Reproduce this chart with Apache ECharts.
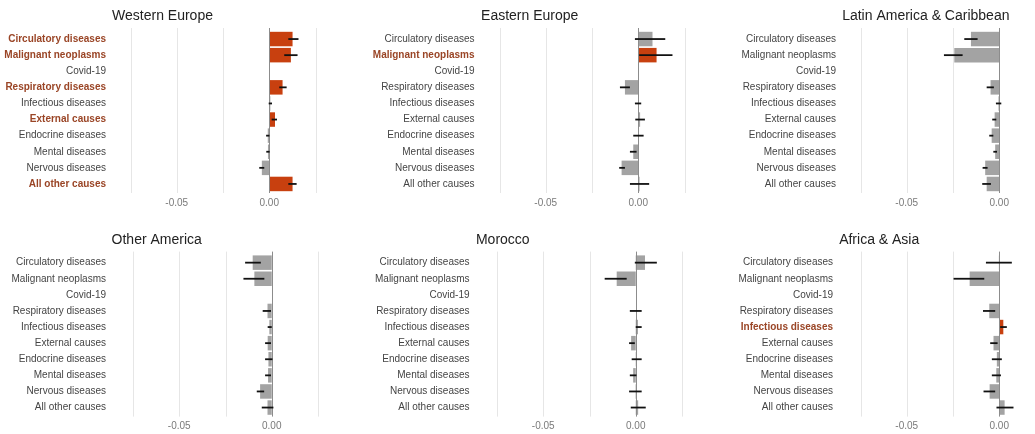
<!DOCTYPE html>
<html>
<head>
<meta charset="utf-8">
<script src="https://cdn.jsdelivr.net/npm/echarts@6/dist/echarts.min.js"></script>
<style>
  html, body { margin: 0; padding: 0; background: #fff; }
  #chart { width: 1035px; height: 434px; }
</style>
</head>
<body>
<div id="chart"></div>
<script>
// Causes of death, top to bottom in every panel
const causes = ['Circulatory diseases', 'Malignant neoplasms', 'Covid-19', 'Respiratory diseases',
  'Infectious diseases', 'External causes', 'Endocrine diseases', 'Mental diseases',
  'Nervous diseases', 'All other causes'];

// Tick labels shown on the x axis and the reference grid lines
const tickValues = [-0.05, 0];
const gridValues = [-0.075, -0.05, -0.025, 0.025];
const zeroValue = [0];

// Western Europe: estimate, lower and upper bounds
const westernEuropeEst = [0.0126, 0.0117, null, 0.0072, 0.0006, 0.0031, -0.0008, -0.0007, -0.0040, 0.0126];
const westernEuropeLo  = [0.0103, 0.0081, null, 0.0054, -0.0003, 0.0013, -0.0017, -0.0016, -0.0054, 0.0103];
const westernEuropeHi  = [0.0158, 0.0153, null, 0.0094, 0.0015, 0.0042, 0.0001, 0.0002, -0.0027, 0.0148];
const westernEuropeSig = ['Circulatory diseases', 'Malignant neoplasms', 'Respiratory diseases', 'External causes', 'All other causes'];

// Eastern Europe
const easternEuropeEst = [0.0077, 0.0099, null, -0.0072, 0.0000, 0.0010, 0.0001, -0.0027, -0.0090, 0.0007];
const easternEuropeLo  = [-0.0018, 0.0005, null, -0.0099, -0.0018, -0.0016, -0.0027, -0.0045, -0.0103, -0.0045];
const easternEuropeHi  = [0.0146, 0.0185, null, -0.0045, 0.0016, 0.0036, 0.0029, -0.0009, -0.0072, 0.0059];
const easternEuropeSig = ['Malignant neoplasms'];

// Latin America & Caribbean
const latinAmericaEst = [-0.0153, -0.0243, null, -0.0047, -0.0004, -0.0025, -0.0041, -0.0022, -0.0076, -0.0068];
const latinAmericaLo  = [-0.0189, -0.0299, null, -0.0068, -0.0018, -0.0038, -0.0054, -0.0032, -0.0090, -0.0092];
const latinAmericaHi  = [-0.0117, -0.0198, null, -0.0029, 0.0011, -0.0016, -0.0032, -0.0012, -0.0063, -0.0045];
const latinAmericaSig = [];

// Other America
const otherAmericaEst = [-0.0103, -0.0094, null, -0.0023, -0.0013, -0.0022, -0.0018, -0.0020, -0.0063, -0.0023];
const otherAmericaLo  = [-0.0144, -0.0153, null, -0.0049, -0.0022, -0.0036, -0.0036, -0.0036, -0.0081, -0.0054];
const otherAmericaHi  = [-0.0059, -0.0040, null, -0.0004, 0.0000, -0.0004, 0.0004, -0.0004, -0.0041, 0.0009];
const otherAmericaSig = [];

// Morocco
const moroccoEst = [0.0050, -0.0103, null, 0.0000, 0.0012, -0.0025, 0.0004, -0.0014, -0.0002, 0.0013];
const moroccoLo  = [-0.0005, -0.0168, null, -0.0032, 0.0000, -0.0036, -0.0022, -0.0032, -0.0036, -0.0027];
const moroccoHi  = [0.0114, -0.0049, null, 0.0032, 0.0032, -0.0005, 0.0032, 0.0004, 0.0032, 0.0054];
const moroccoSig = [];

// Africa & Asia
const africaAsiaEst = [-0.0002, -0.0160, null, -0.0054, 0.0022, -0.0031, -0.0013, -0.0016, -0.0052, 0.0029];
const africaAsiaLo  = [-0.0072, -0.0247, null, -0.0088, 0.0005, -0.0049, -0.0040, -0.0040, -0.0085, -0.0015];
const africaAsiaHi  = [0.0068, -0.0081, null, -0.0022, 0.0041, -0.0009, 0.0014, 0.0009, -0.0022, 0.0077];
const africaAsiaSig = ['Infectious diseases'];

const regionNames = ['Western Europe', 'Eastern Europe', 'Latin America & Caribbean',
  'Other America', 'Morocco', 'Africa & Asia'];
const regionEst = [westernEuropeEst, easternEuropeEst, latinAmericaEst, otherAmericaEst, moroccoEst, africaAsiaEst];
const regionLo  = [westernEuropeLo, easternEuropeLo, latinAmericaLo, otherAmericaLo, moroccoLo, africaAsiaLo];
const regionHi  = [westernEuropeHi, easternEuropeHi, latinAmericaHi, otherAmericaHi, moroccoHi, africaAsiaHi];
const regionSig = [westernEuropeSig, easternEuropeSig, latinAmericaSig, otherAmericaSig, moroccoSig, africaAsiaSig];

// Panel placement (pixels); the right-hand column runs into the page edge
const layout = [
  { left: 112,   top: 31,    xMax: 0.03,  title: [162.5, 15.7], labelMargin: 6 },
  { left: 481,   top: 31,    xMax: 0.03,  title: [529.7, 15.7], labelMargin: 6.5 },
  { left: 842,   top: 31,    xMax: 0.019, title: [925.8, 15.7], labelMargin: 6 },
  { left: 114.5, top: 254.6, xMax: 0.03,  title: [156.7, 240.3], labelMargin: 8.5 },
  { left: 478.5, top: 254.6, xMax: 0.03,  title: [502.8, 240.3], labelMargin: 9 },
  { left: 842,   top: 254.6, xMax: 0.019, title: [879.2, 240.3], labelMargin: 9 }
];
const X_MIN = -0.085;
const PX_PER_UNIT = 1850;
const PANEL_H = 161;

const FONT = '"Liberation Sans", Arial, Helvetica, sans-serif';
const ORANGE = '#C8400F';
const GREY = '#A3A3A3';
const LABEL_RED = '#9A4526';

// vertical rule spanning the panel height, used for the grid and zero lines
function verticalRule(color) {
  return (params, api) => {
    const cs = params.coordSys;
    const x = Math.round(api.coord([api.value(0), 0])[0]) + 0.5;
    return {
      type: 'line',
      shape: { x1: x, y1: cs.y - 3, x2: x, y2: cs.y + cs.height + 1 },
      style: { stroke: color, lineWidth: 1 }
    };
  };
}

const grids = [], xAxes = [], yAxes = [], series = [], graphics = [];

regionNames.forEach((name, i) => {
  const L = layout[i];
  const width = (L.xMax - X_MIN) * PX_PER_UNIT;
  grids.push({ left: L.left, top: L.top, width: width, height: PANEL_H, containLabel: false });

  xAxes.push({
    type: 'value', gridIndex: i, min: X_MIN, max: L.xMax,
    axisLine: { show: false }, axisTick: { show: false }, splitLine: { show: false },
    axisLabel: {
      customValues: tickValues, margin: 6, color: '#7a7a7a', fontSize: 10, fontFamily: FONT,
      formatter: v => v.toFixed(2)
    }
  });

  const sig = regionSig[i];
  yAxes.push({
    type: 'category', gridIndex: i, data: causes, inverse: true,
    axisLine: { show: false }, axisTick: { show: false }, splitLine: { show: false },
    axisLabel: {
      margin: L.labelMargin, interval: 0,
      formatter: v => (sig.includes(v) ? '{h|' + v + '}' : '{n|' + v + '}'),
      rich: {
        n: { fontSize: 10, color: '#444', fontFamily: FONT },
        h: { fontSize: 10, color: LABEL_RED, fontWeight: 'bold', fontFamily: FONT }
      }
    }
  });

  // light grid lines behind the bars
  series.push({
    type: 'custom', xAxisIndex: i, yAxisIndex: i, z: 0, silent: true, animation: false,
    encode: { x: 0, y: 1 }, clip: false,
    data: gridValues.filter(v => v <= L.xMax).map(v => [v, 0]),
    renderItem: verticalRule('#e6e6e6')
  });

  // bars
  series.push({
    type: 'bar', xAxisIndex: i, yAxisIndex: i, barWidth: '90%', z: 2,
    animation: false,
    data: regionEst[i].map((v, k) => ({
      value: v,
      itemStyle: { color: sig.includes(causes[k]) ? ORANGE : GREY }
    }))
  });

  // zero line
  series.push({
    type: 'custom', xAxisIndex: i, yAxisIndex: i, z: 3, silent: true, animation: false,
    encode: { x: 0, y: 1 }, clip: false,
    data: zeroValue.map(v => [v, 0]),
    renderItem: verticalRule('#8c8c8c')
  });

  // interval whiskers
  const whiskers = [];
  regionLo[i].forEach((lo, k) => {
    if (lo !== null && regionHi[i][k] !== null) whiskers.push([lo, regionHi[i][k], k]);
  });
  series.push({
    type: 'custom', xAxisIndex: i, yAxisIndex: i, z: 5, animation: false,
    encode: { x: [0, 1], y: 2 },
    data: whiskers,
    renderItem: (params, api) => {
      const y = api.value(2);
      const p1 = api.coord([api.value(0), y]);
      const p2 = api.coord([api.value(1), y]);
      return {
        type: 'line',
        shape: { x1: p1[0], y1: p1[1], x2: p2[0], y2: p2[1] },
        style: { stroke: '#111', lineWidth: 1.8 }
      };
    }
  });

  graphics.push({
    type: 'text', x: L.title[0], y: L.title[1],
    style: { text: name, align: 'center', verticalAlign: 'middle', fill: '#222', font: '14px ' + FONT }
  });
});

const chart = echarts.init(document.getElementById('chart'), null, { renderer: 'canvas' });
chart.setOption({
  backgroundColor: '#fff',
  animation: false,
  grid: grids,
  xAxis: xAxes,
  yAxis: yAxes,
  series: series,
  graphic: graphics
});
</script>
</body>
</html>
